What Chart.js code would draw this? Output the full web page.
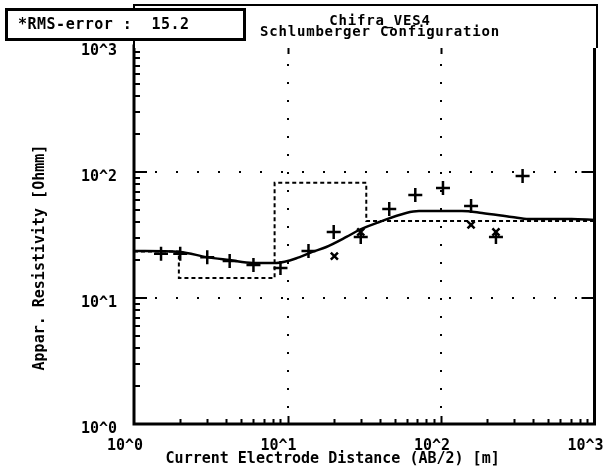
<!DOCTYPE html>
<html>
<head>
<meta charset="utf-8">
<script src="https://cdn.jsdelivr.net/npm/chart.js@4/dist/chart.umd.min.js"></script>
<style>
  body { margin: 0; background: #fff; }
  #wrap { position: relative; width: 604px; height: 472px; }
  #titleBox { position: absolute; left: 133px; top: 4px; width: 465px; height: 44px;
    border: 2px solid #000; border-bottom: none; box-sizing: border-box; background: #fff; }
  #titleText { position: absolute; left: 180px; top: 15px; width: 400px; text-align: center;
    font: bold 14px "DejaVu Sans Mono", monospace; line-height: 11px; letter-spacing: 0.8px; white-space: pre; }
  #rms { position: absolute; left: 5px; top: 8px; width: 241px; height: 33px;
    border: 3px solid #000; box-sizing: border-box; background: #fff;
    font: bold 15px "DejaVu Sans Mono", monospace; line-height: 27px; padding-left: 10px;
    letter-spacing: 0.5px; white-space: pre; }
  canvas { position: absolute; left: 0; top: 0; }
</style>
</head>
<body>
<div id="wrap">
  <canvas id="vesChart" width="604" height="472"></canvas>
  <div id="titleBox"></div>
  <div id="titleText">Chifra_VES4
Schlumberger Configuration</div>
  <div id="rms">*RMS-error :  15.2</div>
</div>
<script>
// Observed apparent resistivity (+)
const abHalf = [1.5, 2, 3, 4.2, 6, 9, 13.7, 20, 30, 46, 68, 103, 157, 228, 340];
const rhoObs = [22.4, 22.4, 21.1, 19.7, 18.3, 17.3, 23.6, 33.4, 30.5, 50.9, 65.7, 74.6, 53.7, 30.5, 93];

// Shifted / calculated points (x)
const abCalc = [20.2, 30, 157, 228];
const rhoCalc = [21.5, 33.4, 38, 33.4];

// Model response curve
const abModel = [1, 1.99, 2.98, 4.2, 5.93, 8.48, 12, 14.5, 17.9, 24.2, 29.4, 39.6, 59.3, 71.9, 137, 185, 289, 373, 709, 1000];
const rhoModel = [23.6, 23.2, 21.1, 20.0, 19.0, 19.0, 21.1, 23.2, 25.4, 30.5, 34.7, 40.1, 47.3, 49.0, 49.0, 47.3, 44.0, 42.4, 42.4, 41.6];

// Layered model: layer boundaries and resistivities
const layerDepth = [1, 1.96, 8.24, 32.6, 1000];
const layerRho = [23.4, 14.4, 82, 40.8];

// Axis tick values
const decadeTicks = [1, 10, 100, 1000];

const font = { family: "'DejaVu Sans Mono', monospace", size: 15, weight: 'bold' };

// Draw frame and inward tick marks
const framePlugin = {
  id: 'framePlugin',
  afterDraw(chart) {
    const { ctx, chartArea: a, scales: { x, y } } = chart;
    ctx.save();
    ctx.strokeStyle = '#000';
    ctx.lineWidth = 2;
    ctx.beginPath();
    for (let k = 0; k < 3; k++) {
      for (let m = 1; m <= 9; m++) {
        if (k === 0 && m === 1) continue;
        const v = m * Math.pow(10, k);
        const px = Math.round(x.getPixelForValue(v)) + 0.5;
        const py = Math.round(y.getPixelForValue(v));
        const major = m === 1;
        // left
        ctx.moveTo(a.left, py); ctx.lineTo(a.left + (major ? 13 : 6), py);
        // bottom
        ctx.moveTo(px, a.bottom); ctx.lineTo(px, a.bottom - (major ? 8 : 5));
        if (major) {
          ctx.moveTo(a.right, py); ctx.lineTo(a.right - 13, py);
          ctx.moveTo(px, a.top); ctx.lineTo(px, a.top + 8);
        }
      }
    }
    ctx.stroke();
    ctx.lineWidth = 3;
    ctx.strokeRect(a.left, a.top, a.right - a.left, a.bottom - a.top);
    ctx.lineWidth = 4;
    ctx.beginPath();
    ctx.moveTo(a.left - 1, a.top); ctx.lineTo(a.right + 1, a.top);
    ctx.stroke();
    ctx.restore();
  }
};

function gridColor(c) {
  const v = c.tick && c.tick.value;
  return (v === 10 || v === 100) ? '#000' : 'rgba(0,0,0,0)';
}

function decadeLabel(v) {
  return '10^' + Math.round(Math.log10(v));
}

const ctx = document.getElementById('vesChart').getContext('2d');
new Chart(ctx, {
  type: 'scatter',
  data: {
    datasets: [
      {
        label: 'Layers',
        data: layerDepth.map((d, i) => ({ x: d, y: layerRho[Math.min(i, layerRho.length - 1)] })),
        showLine: true,
        stepped: 'before',
        borderColor: '#000',
        borderWidth: 2,
        borderDash: [4, 3],
        pointRadius: 0
      },
      {
        label: 'Model',
        data: abModel.map((d, i) => ({ x: d, y: rhoModel[i] })),
        showLine: true,
        cubicInterpolationMode: 'monotone',
        borderColor: '#000',
        borderWidth: 2.5,
        pointRadius: 0
      },
      {
        label: 'Observed',
        data: abHalf.map((d, i) => ({ x: d, y: rhoObs[i] })),
        pointStyle: 'cross',
        pointRadius: 7,
        borderColor: '#000',
        borderWidth: 2.5
      },
      {
        label: 'Calculated',
        data: abCalc.map((d, i) => ({ x: d, y: rhoCalc[i] })),
        pointStyle: 'crossRot',
        pointRadius: 5,
        borderColor: '#000',
        borderWidth: 2.5
      }
    ]
  },
  options: {
    responsive: false,
    devicePixelRatio: 1,
    animation: false,
    layout: { padding: { top: 46, right: 8, left: 0, bottom: 0 } },
    plugins: { legend: { display: false }, tooltip: { enabled: false } },
    scales: {
      x: {
        type: 'logarithmic',
        min: 1,
        max: 1000,
        afterBuildTicks: s => { s.ticks = decadeTicks.map(v => ({ value: v })); },
        afterFit: s => { s.height = 48; s.paddingLeft = 0; s.paddingRight = 0; },
        ticks: { font, color: '#000', padding: 13, labelOffset: -9, maxRotation: 0, autoSkip: false, callback: decadeLabel },
        grid: { color: gridColor, lineWidth: 2, drawTicks: false },
        border: { display: false, dash: [2, 16] },
        title: { display: true, text: 'Current Electrode Distance (AB/2) [m]       ', font, color: '#000', padding: { top: 0, bottom: 4 } }
      },
      y: {
        type: 'logarithmic',
        min: 1,
        max: 1000,
        afterBuildTicks: s => { s.ticks = decadeTicks.map(v => ({ value: v })); },
        afterFit: s => { s.width = 134; },
        ticks: { font, color: '#000', padding: 17, labelOffset: 5, autoSkip: false, callback: decadeLabel },
        grid: { color: gridColor, lineWidth: 2, drawTicks: false },
        border: { display: false, dash: [2, 19] },
        title: { display: true, text: 'Appar. Resistivity [Ohmm]     ', font, color: '#000', padding: { top: 31, bottom: 0 } }
      }
    }
  },
  plugins: [framePlugin]
});
</script>
</body>
</html>
